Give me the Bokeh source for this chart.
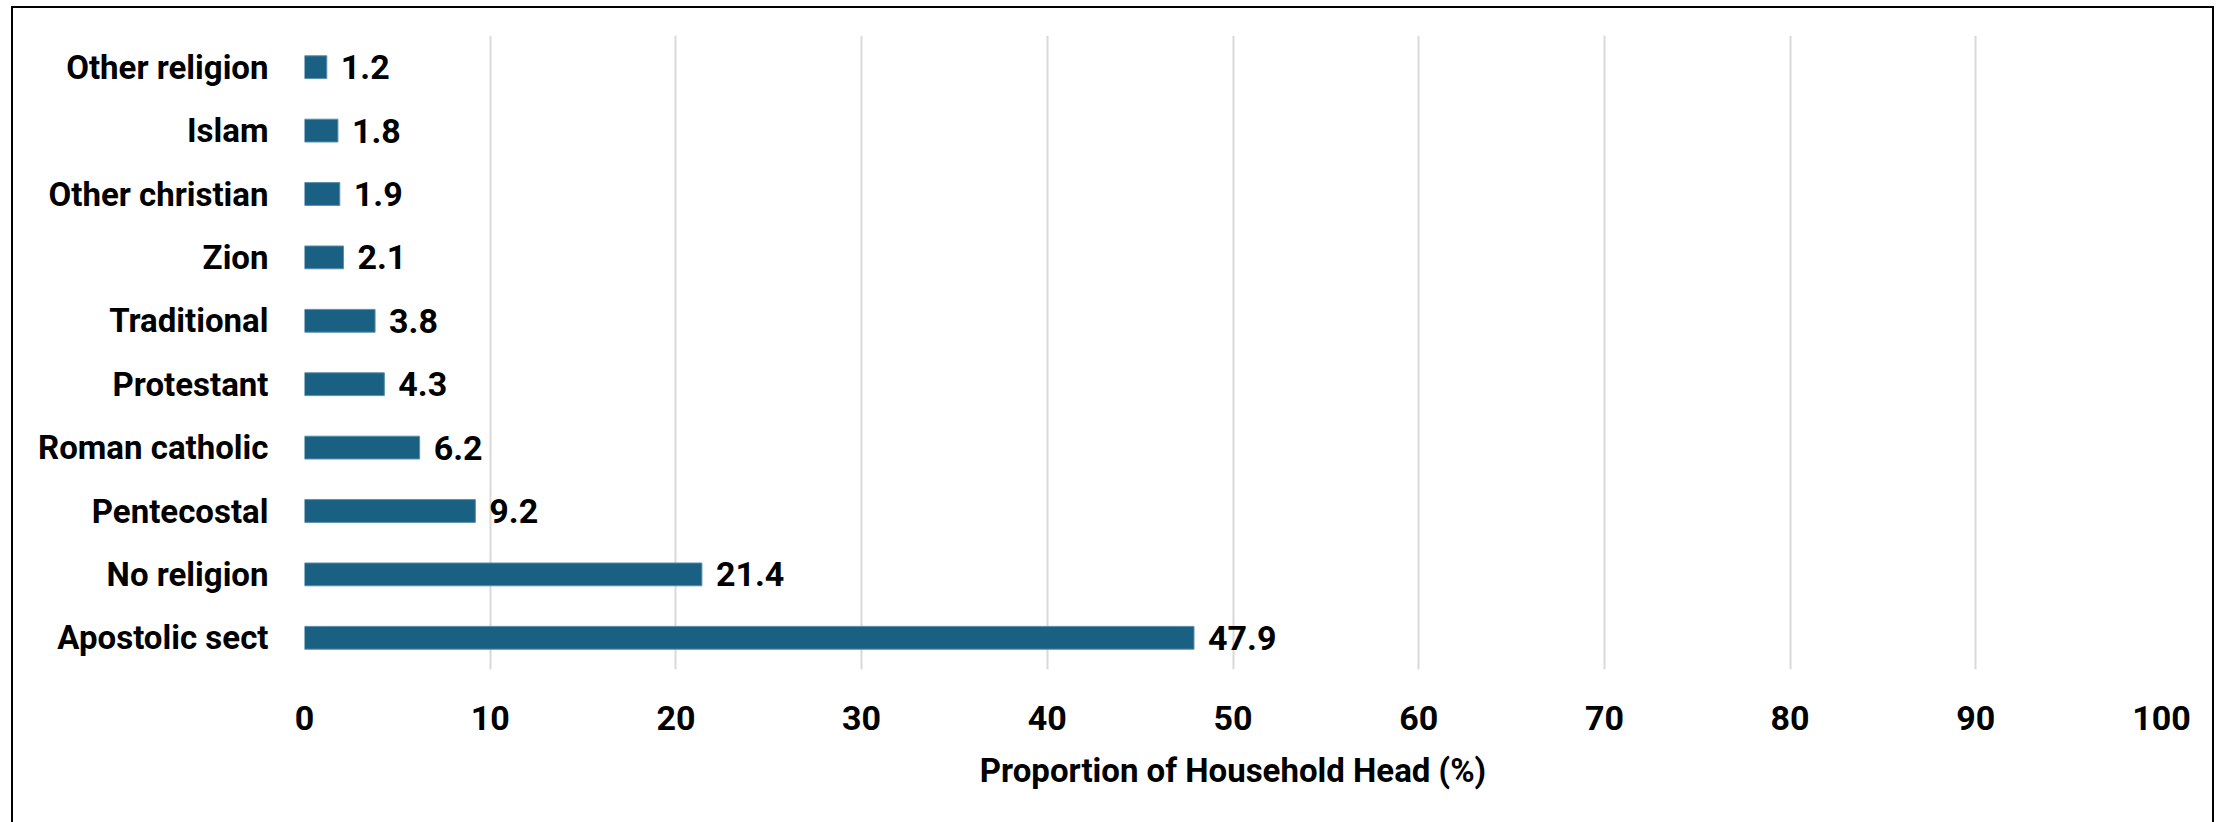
from bokeh.plotting import figure
from bokeh.models import ColumnDataSource, FixedTicker, Range1d
from bokeh.core.properties import value
from bokeh.embed import file_html
from bokeh.resources import INLINE

categories = ["Apostolic sect", "No religion", "Pentecostal", "Roman catholic",
              "Protestant", "Traditional", "Zion", "Other christian", "Islam", "Other religion"]
values = [47.9, 21.4, 9.2, 6.2, 4.3, 3.8, 2.1, 1.9, 1.8, 1.2]
x_ticks = [0, 10, 20, 30, 40, 50, 60, 70, 80, 90, 100]
x_title = "Proportion of Household Head (%)"

FONT = "Roboto, sans-serif"

src = ColumnDataSource(dict(cat=categories, val=values,
                            lab=[f"{v:.1f}" for v in values]))

p = figure(y_range=categories, x_range=Range1d(0, 100),
           width=2203, height=818, output_backend="svg", toolbar_location=None,
           min_border_left=291, min_border_right=55, min_border_top=27, min_border_bottom=157)
p.styles = {"border": "2px solid black", "margin-left": "11px", "margin-top": "6px"}

p.hbar(y="cat", right="val", left=0, height=0.36, source=src,
       fill_color="#1a6083", line_color="#5b8fab", line_width=1)

p.text(x="val", y="cat", text="lab", source=src, x_offset=14,
       text_baseline="middle", text_align="left",
       text_font=value(FONT), text_font_style="bold", text_font_size="34px",
       text_color="black")

p.outline_line_color = None
p.xgrid.grid_line_color = "#d9d9d9"
p.xgrid.grid_line_width = 2
p.ygrid.grid_line_color = None

p.xaxis.ticker = FixedTicker(ticks=x_ticks)
p.xaxis.axis_line_color = None
p.xaxis.major_tick_line_color = None
p.xaxis.minor_tick_line_color = None
p.xaxis.major_label_text_font = FONT
p.xaxis.major_label_text_font_style = "bold"
p.xaxis.major_label_text_font_size = "34px"
p.xaxis.major_label_text_color = "black"
p.xaxis.major_label_standoff = 30
p.xaxis.axis_label = x_title
p.xaxis.axis_label_text_font = FONT
p.xaxis.axis_label_text_font_style = "bold"
p.xaxis.axis_label_text_font_size = "33px"
p.xaxis.axis_label_text_color = "black"
p.xaxis.axis_label_standoff = 18

p.yaxis.axis_line_color = None
p.yaxis.major_tick_line_color = None
p.yaxis.minor_tick_line_color = None
p.yaxis.major_label_text_font = FONT
p.yaxis.major_label_text_font_style = "bold"
p.yaxis.major_label_text_font_size = "33px"
p.yaxis.major_label_text_color = "black"
p.yaxis.major_label_standoff = 30

open("out.html", "w").write(file_html(p, INLINE))
